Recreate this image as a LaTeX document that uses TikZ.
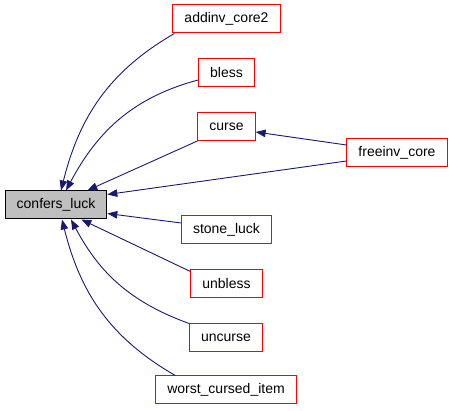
\documentclass[tikz,border=0pt]{standalone}
\usepackage{fontspec}
\setmainfont{Liberation Sans}
\usepackage{xcolor}
\usepackage{tikz}
\usetikzlibrary{
	arrows.meta,
	calc
}
\definecolor{EdgeBlue}{RGB}{25, 25, 112}
\definecolor{BoxGray}{RGB}{191, 191, 191}

\begin{document}
\begin{tikzpicture}[x=1pt, y=1pt,
		fn/.style={draw=red, line width=1pt, inner xsep=11.5pt, inner ysep=0pt,
			minimum height=28pt, font=\fontsize{14}{16}\selectfont},
		root/.style={fn, draw=black, fill=BoxGray},
		call/.style={draw=EdgeBlue, line width=0.9pt,
			-{Triangle[length=10pt, width=7.5pt]}}]
		\useasboundingbox (0,0) rectangle (453,411);
		% function nodes
		\node[root] (luck) at (56,206) {confers\_luck};
		\node[fn] (addinv) at (226.5,392) {addinv\_core2};
		\node[fn] (bless) at (226.5,338) {bless};
		\node[fn] (curse) at (226.5,284.5) {curse};
		\node[fn] (freeinv) at (397,258) {freeinv\_core};
		\node[fn] (stone) at (226.5,181) {stone\_luck};
		\node[fn] (unbless) at (226.5,127.5) {unbless};
		\node[fn] (uncurse) at (226,73.5) {uncurse};
		\node[fn] (worst) at (226,21) {worst\_cursed\_item};
		% callers
		\draw[call] ([xshift=2pt]addinv.south west) to[out=210, in=76] ([xshift=5pt]luck.north);
		\draw[call] ([yshift=-7pt]bless.west) to[out=195, in=62] ([xshift=10pt]luck.north);
		\draw[call] (curse.south west) -- ([xshift=-20pt]luck.north east);
		\draw[call] ([yshift=-8pt]freeinv.west) -- ([yshift=-4pt]luck.north east);
		\draw[call] ([yshift=8pt]freeinv.west) -- ([yshift=-5.5pt]curse.east);
		\draw[call] ([yshift=7pt]stone.west) -- ([yshift=6pt]luck.south east);
		\draw[call] ([yshift=12pt]unbless.west) -- ([xshift=-26pt]luck.south east);
		\draw[call] ([yshift=14pt]uncurse.west) to[out=160, in=-62] ([xshift=15pt]luck.south);
		\draw[call] ([xshift=20pt]worst.north west) to[out=150, in=-76] ([xshift=6pt]luck.south);
	\end{tikzpicture}
\end{document}
